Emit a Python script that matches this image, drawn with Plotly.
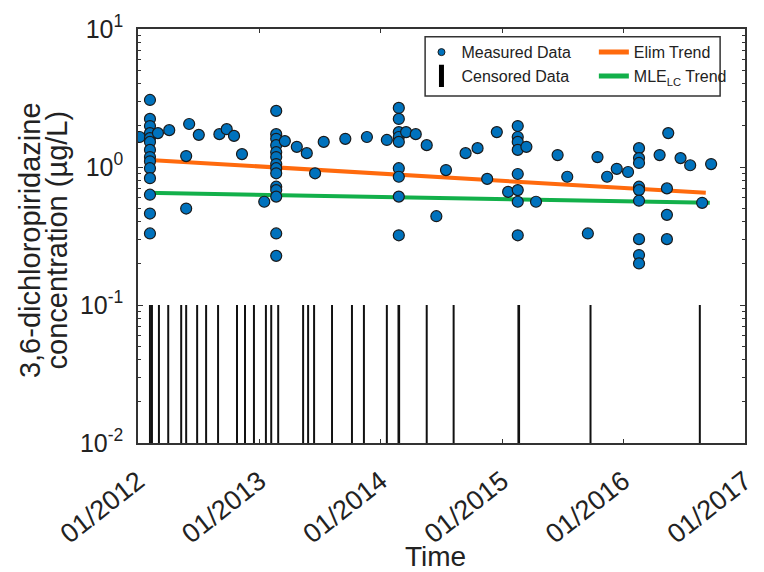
import plotly.graph_objects as go

# Measured 3,6-dichloropiridazine concentrations (µg/L) by sampling date
meas_dates = [
    "2012-01-06",
    "2012-02-06", "2012-02-06", "2012-02-06", "2012-02-06", "2012-02-06",
    "2012-02-06", "2012-02-06", "2012-02-06", "2012-02-06", "2012-02-06",
    "2012-02-06", "2012-02-06", "2012-02-06", "2012-02-06",
    "2012-03-01", "2012-04-04", "2012-05-25", "2012-05-25", "2012-06-03",
    "2012-07-02", "2012-09-02", "2012-09-24", "2012-10-16", "2012-11-09",
    "2013-01-15",
    "2013-02-20", "2013-02-20", "2013-02-20", "2013-02-20", "2013-02-20",
    "2013-02-20", "2013-02-20", "2013-02-20", "2013-02-20", "2013-02-20",
    "2013-02-20", "2013-02-20", "2013-02-20", "2013-02-20",
    "2013-03-18", "2013-04-23", "2013-05-23", "2013-06-17", "2013-07-13",
    "2013-09-16", "2013-11-20", "2014-01-19",
    "2014-02-24", "2014-02-24", "2014-02-24", "2014-02-24", "2014-02-24",
    "2014-02-24", "2014-02-24", "2014-02-24", "2014-02-24",
    "2014-03-18", "2014-04-16", "2014-05-19", "2014-06-17", "2014-07-16",
    "2014-09-13", "2014-10-19", "2014-11-17", "2014-12-16", "2015-01-19",
    "2015-02-17", "2015-02-17", "2015-02-17", "2015-02-17", "2015-02-17",
    "2015-02-17", "2015-02-17", "2015-02-17",
    "2015-03-15", "2015-04-13", "2015-06-17", "2015-07-16", "2015-09-16",
    "2015-10-15", "2015-11-13", "2015-12-12", "2016-01-15",
    "2016-02-17", "2016-02-17", "2016-02-17", "2016-02-17", "2016-02-17",
    "2016-02-17", "2016-02-17", "2016-02-17", "2016-02-17",
    "2016-04-19", "2016-05-11", "2016-05-11", "2016-05-11", "2016-05-15",
    "2016-06-21", "2016-07-20", "2016-08-25", "2016-09-21",
]
meas_values = [
    1.65,
    3.06, 2.23, 1.98, 1.76, 1.62, 1.52, 1.33, 1.18, 1.10, 0.98,
    0.83, 0.63, 0.46, 0.33,
    1.76, 1.85, 1.20, 0.50, 2.05,
    1.71, 1.73, 1.88, 1.68, 1.24,
    0.56,
    2.55, 1.73, 1.60, 1.44, 1.28, 1.18, 1.05, 0.98, 0.90, 0.72,
    0.68, 0.61, 0.33, 0.227,
    1.54, 1.40, 1.26, 0.90, 1.52,
    1.60, 1.65, 1.57,
    2.68, 2.23, 1.79, 1.65, 1.52, 0.98, 0.85, 0.61, 0.32,
    1.79, 1.73, 1.44, 0.44, 0.95,
    1.26, 1.37, 0.82, 1.79, 0.66,
    1.98, 1.65, 1.52, 1.33, 0.89, 0.68, 0.56, 0.32,
    1.40, 0.56, 1.22, 0.85, 0.33,
    1.18, 0.85, 0.97, 0.92,
    1.37, 1.16, 1.07, 0.72, 0.68, 0.57, 0.30, 0.23, 0.20,
    1.22, 0.70, 0.45, 0.30, 1.76,
    1.16, 1.03, 0.55, 1.05,
]

# Non-detects, shown at the reporting limit (µg/L)
cens_dates = [
    "2012-02-06", "2012-02-12", "2012-03-04", "2012-04-01", "2012-05-10",
    "2012-05-25", "2012-06-27", "2012-07-24", "2012-08-29", "2012-10-25",
    "2012-11-18", "2012-12-15", "2013-01-20", "2013-02-05", "2013-02-26",
    "2013-05-12", "2013-05-27", "2013-06-14", "2013-08-07", "2013-10-06",
    "2013-11-11", "2014-01-19", "2014-02-23", "2014-02-25", "2014-05-19",
    "2014-08-08", "2015-02-19", "2015-02-21", "2015-09-24", "2016-08-18",
]
cens_limit = [0.1] * len(cens_dates)

# Fitted trends (start / end of the fit period)
elim_dates = ["2012-01-22", "2016-09-05"]
elim_values = [1.13, 0.65]
mle_dates = ["2012-01-22", "2016-09-17"]
mle_values = [0.65, 0.55]

# Axis ticks and titles
year_ticks = ["2012-01-01", "2013-01-01", "2014-01-01", "2015-01-01",
              "2016-01-01", "2017-01-01"]
year_labels = ["01/2012", "01/2013", "01/2014", "01/2015", "01/2016", "01/2017"]
y_ticks = [0.01, 0.1, 1, 10]
y_labels = ["10<sup>-2</sup>", "10<sup>-1</sup>", "10<sup>0</sup>", "10<sup>1</sup>"]
y_minor = [m * 10.0 ** e for e in (-2, -1, 0) for m in range(2, 10)]
y_title_lines = ["3,6-dichloropiridazine", "concentration (µg/L)"]
x_title = "Time"

Y_FLOOR = 0.01
BLUE = "#0072BD"
ORANGE = "#FF6A0D"
GREEN = "#12B04A"
INK = "#222222"
FONT = "Liberation Sans, Arial, sans-serif"

# vertical bars from the axis floor up to the reporting limit
cx, cy = [], []
for d, v in zip(cens_dates, cens_limit):
    cx += [d, d, None]
    cy += [Y_FLOOR, v, None]

fig = go.Figure()

fig.add_trace(go.Scatter(
    x=cx, y=cy, mode="lines", line=dict(color="#111111", width=2),
    showlegend=False, hoverinfo="skip",
))
fig.add_trace(go.Scatter(
    x=elim_dates, y=elim_values, mode="lines",
    line=dict(color=ORANGE, width=4), showlegend=False,
))
fig.add_trace(go.Scatter(
    x=mle_dates, y=mle_values, mode="lines",
    line=dict(color=GREEN, width=4), showlegend=False,
))
fig.add_trace(go.Scatter(
    x=meas_dates, y=meas_values, mode="markers",
    marker=dict(size=11, color=BLUE, line=dict(color="#1a1a1a", width=1.2)),
    showlegend=False,
))

# legend entries
fig.add_trace(go.Scatter(
    x=[None], y=[None], mode="markers", name="Measured Data",
    marker=dict(size=7, color=BLUE, line=dict(color="#1a1a1a", width=1)),
    legend="legend",
))
fig.add_trace(go.Scatter(
    x=[None], y=[None], mode="markers", name="Censored Data",
    marker=dict(symbol="line-ns", size=16, line=dict(color="black", width=5)),
    legend="legend",
))
fig.add_trace(go.Scatter(
    x=[None], y=[None], mode="lines", name="Elim Trend",
    line=dict(color=ORANGE, width=5), legend="legend2",
))
fig.add_trace(go.Scatter(
    x=[None], y=[None], mode="lines", name="MLE<sub>LC</sub> Trend",
    line=dict(color=GREEN, width=5), legend="legend2",
))

legend_style = dict(
    bgcolor="rgba(0,0,0,0)", borderwidth=0,
    font=dict(family=FONT, size=16, color=INK),
    yanchor="top", xanchor="left", tracegroupgap=0,
)

# axis titles as annotations: two tight lines on y, one below the x labels
title_annotations = [
    dict(text=t, xref="paper", yref="paper", x=xp, y=0.49,
         xanchor="center", yanchor="middle", textangle=-90, showarrow=False,
         font=dict(family=FONT, size=29, color=INK))
    for t, xp in zip(y_title_lines, [-0.178, -0.133])
]
title_annotations.append(dict(
    text=x_title, xref="paper", yref="paper", x=0.49, y=-0.275,
    xanchor="center", yanchor="middle", showarrow=False,
    font=dict(family=FONT, size=28, color=INK),
))

fig.update_layout(
    width=764, height=572,
    margin=dict(l=138, r=19, t=29, b=129),
    paper_bgcolor="white", plot_bgcolor="white",
    font=dict(family=FONT, color=INK),
    legend=dict(x=0.467, y=0.985, **legend_style),
    legend2=dict(x=0.751, y=0.985, **legend_style),
    annotations=title_annotations,
    shapes=[dict(
        type="rect", xref="paper", yref="paper", layer="above",
        x0=0.473, x1=0.959, y0=0.838, y1=0.981,
        line=dict(color="#333333", width=1.5), fillcolor="white",
    )],
    xaxis=dict(
        type="date", range=["2012-01-01", "2017-01-01"],
        tickvals=year_ticks, ticktext=year_labels, tickangle=-38,
        ticks="inside", ticklen=4, tickcolor="#333333",
        showline=True, linecolor="#333333", linewidth=1.5, mirror="ticks",
        showgrid=False, zeroline=False, ticklabelstandoff=10,
        automargin=False,
        tickfont=dict(family=FONT, size=27, color=INK),
    ),
    yaxis=dict(
        type="log", range=[-2, 1],
        tickvals=y_ticks, ticktext=y_labels,
        ticks="inside", ticklen=5, tickcolor="#333333",
        minor=dict(ticks="inside", ticklen=3, tickcolor="#333333",
                   tickvals=y_minor),
        showline=True, linecolor="#333333", linewidth=1.5, mirror="ticks",
        showgrid=False, zeroline=False, ticklabelstandoff=8,
        automargin=False,
        tickfont=dict(family=FONT, size=25, color=INK),
    ),
)

fig.write_html("out.html")
